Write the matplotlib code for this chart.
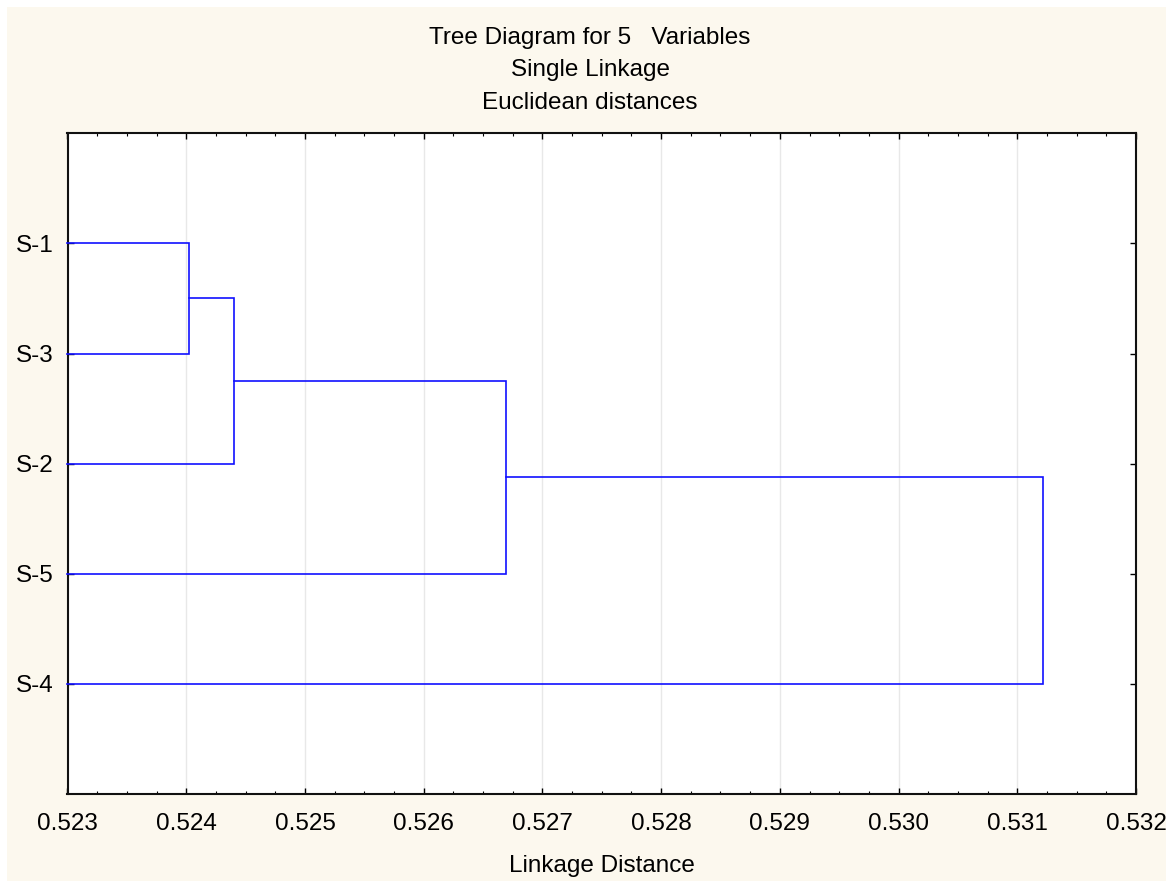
import matplotlib.pyplot as plt
from matplotlib.patches import Rectangle
from matplotlib.ticker import MultipleLocator

# leaves in the order they appear, top to bottom
leaves = ["S-1", "S-3", "S-2", "S-5", "S-4"]
# merges: (left cluster, right cluster, linkage distance)
merges = [
    ("S-1", "S-3", 0.52402),
    ("C1", "S-2", 0.52440),
    ("C2", "S-5", 0.52669),
    ("C3", "S-4", 0.53122),
]
x_ticks = [0.523, 0.524, 0.525, 0.526, 0.527, 0.528, 0.529, 0.530, 0.531, 0.532]
x_min, x_max = 0.523, 0.532

plt.rcParams["font.family"] = ["Liberation Sans", "DejaVu Sans"]

fig = plt.figure(figsize=(11.66, 8.81), dpi=100, facecolor="white")
fig.patches.append(Rectangle((7 / 1166, 0), 1, 1 - 7 / 881, transform=fig.transFigure,
                             facecolor="#fcf8ee", edgecolor="none", zorder=-10))
ax = fig.add_axes([67.5 / 1166, 1 - 794 / 881, (1136 - 67.5) / 1166, (794 - 133.3) / 881])
ax.set_facecolor("white")

# position (y) and height (x) of each node
pos = {name: i + 1 for i, name in enumerate(leaves)}
height = {name: x_min for name in leaves}
blue = "#1010ff"
for k, (a, b, d) in enumerate(merges):
    ya, yb = pos[a], pos[b]
    ax.plot([height[a], d, d, height[b]], [ya, ya, yb, yb], color=blue, lw=1.2,
            solid_joinstyle="miter", clip_on=False, zorder=3)
    name = "C%d" % (k + 1)
    pos[name] = (ya + yb) / 2
    height[name] = d

ax.set_xlim(x_min, x_max)
ax.set_ylim(6, 0)
ax.set_xticks(x_ticks)
ax.set_xticklabels(["%.3f" % v for v in x_ticks])
ax.xaxis.set_minor_locator(MultipleLocator(0.00025))
ax.set_yticks(range(1, len(leaves) + 1))
ax.set_yticklabels(leaves)
ax.grid(axis="x", color="#e8e8e8", lw=1.0, zorder=0)
ax.set_axisbelow(True)
ax.tick_params(axis="both", which="major", direction="in", length=4, width=1,
               labelsize=17.5, top=True, right=True, pad=14)
ax.tick_params(axis="y", which="major", pad=10)
ax.tick_params(axis="x", which="minor", direction="in", length=2, width=0.8, top=True)
for s in ax.spines.values():
    s.set_linewidth(1.5)
    s.set_color("#111111")

ax.set_xlabel("Linkage Distance", fontsize=17.5, labelpad=14)
fig.text(590 / 1166, 1 - 38 / 881, "Tree Diagram for 5   Variables", ha="center", va="center", fontsize=17.5)
fig.text(590 / 1166, 1 - 70 / 881, "Single Linkage", ha="center", va="center", fontsize=17.5)
fig.text(590 / 1166, 1 - 103 / 881, "Euclidean distances", ha="center", va="center", fontsize=17.5)

fig.savefig("out.png", dpi=100, facecolor=fig.get_facecolor())
